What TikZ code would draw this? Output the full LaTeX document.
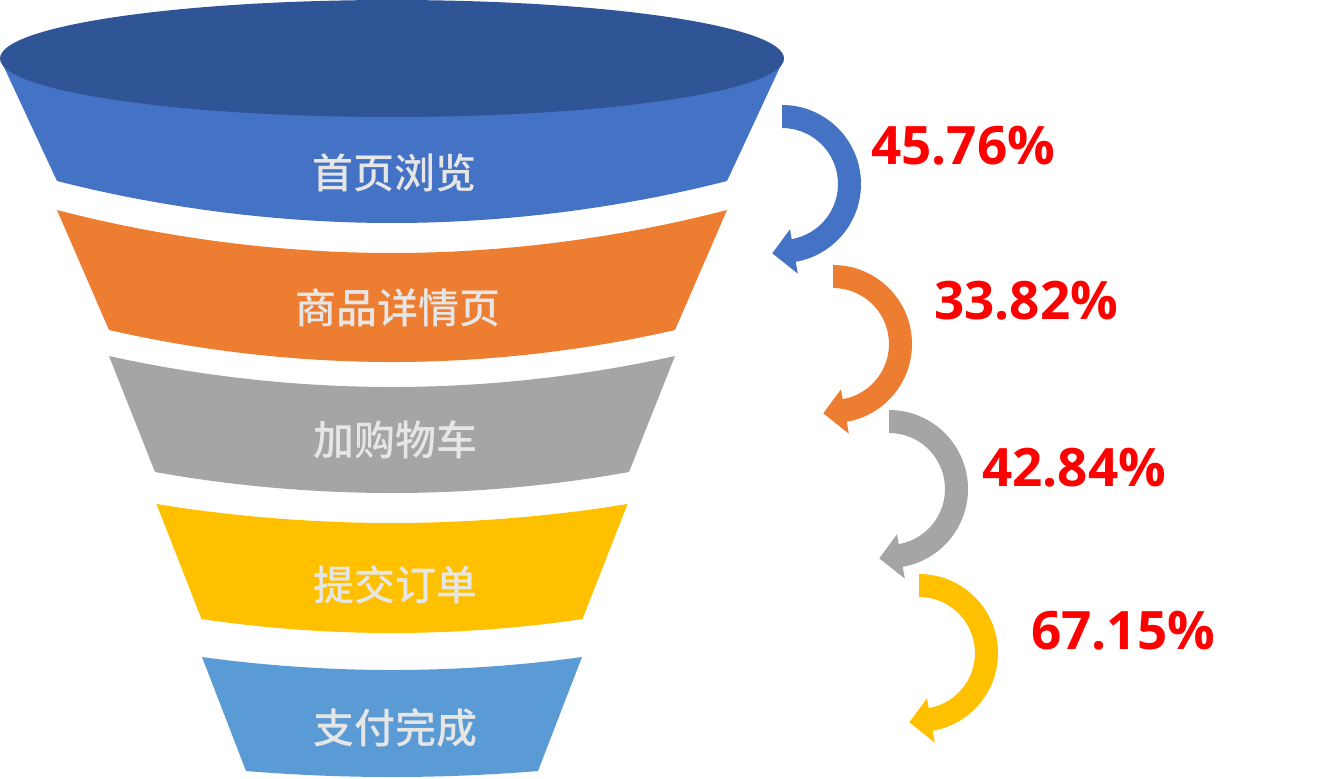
\documentclass[tikz,border=0pt]{standalone}
\usepackage{fontspec}
\newfontfamily\cjk{Noto Sans CJK SC Medium}
\newfontfamily\pctfont{Open Sans}
\usetikzlibrary{calc}
\definecolor{topdark}{HTML}{2F5597}
\definecolor{segblue}{HTML}{4472C4}
\definecolor{segorange}{HTML}{ED7D31}
\definecolor{seggray}{HTML}{A5A5A5}
\definecolor{segyellow}{HTML}{FFC000}
\definecolor{seglight}{HTML}{5B9BD5}
\definecolor{labgray}{HTML}{E7E6E6}
\definecolor{pctred}{HTML}{FF0000}
% #1 colour, #2 top y, #3 top half width, #4 top sag, #5 bottom y, #6 bottom half width, #7 bottom sag
\newcommand\funseg[7]{%
  \fill[#1] (392-#3,-#2) parabola bend (392,-#2-#4) (392+#3,-#2)
    -- (392+#6,-#5) parabola bend (392,-#5-#7) (392-#6,-#5) -- cycle;}
% #1 colour, #2 centre x, #3 centre y
\newcommand\turnarrow[3]{%
  \begin{scope}[shift={(#2,-#3)}]
    \fill[#1] (90:79) arc[start angle=90,end angle=-80,radius=79]
      -- (-80:91) -- (-98:70) -- (-80:46) -- (-80:56)
      arc[start angle=-80,end angle=90,radius=56] -- cycle;
  \end{scope}}
\tikzset{
  lab/.style={font=\cjk\fontsize{41}{41}\selectfont, text=labgray, inner sep=0pt},
  pct/.style={font=\pctfont\bfseries\fontsize{53}{53}\selectfont, text=pctred, inner sep=0pt, anchor=base west}
}
\begin{document}
\begin{tikzpicture}[x=1pt,y=1pt]
\useasboundingbox (0,0) rectangle (1331,-779);
% top segment
\fill[segblue] (0,-58.5) -- (57,-181) parabola bend (392,-223) (727,-181) -- (784,-58.5) -- cycle;
\fill[topdark] (392,-58.5) ellipse[x radius=392, y radius=58.5];
\funseg{segorange}{210}{335}{43}{330}{283}{32}
\funseg{seggray}{356}{283}{31}{472}{237}{21}
\funseg{segyellow}{504}{235.5}{19}{619}{190.5}{14}
\funseg{seglight}{657}{190}{13}{771}{146}{6}
% labels
\node[lab] (s1) at (394,-173) {首页浏览};
\node[lab] (s2) at (398,-308) {商品详情页};
\node[lab] (s3) at (395,-440) {加购物车};
\node[lab] (s4) at (395,-585) {提交订单};
\node[lab] (s5) at (395,-728) {支付完成};
% arrows
\turnarrow{segblue}{782}{184}
\turnarrow{segorange}{833}{344}
\turnarrow{seggray}{889}{489}
\turnarrow{segyellow}{919}{653}
% percentages
\node[pct] (p1) at (871,-164) {45.76\%};
\node[pct] (p2) at (934,-319) {33.82\%};
\node[pct] (p3) at (982,-486) {42.84\%};
\node[pct] (p4) at (1031,-649) {67.15\%};
\end{tikzpicture}
\end{document}
